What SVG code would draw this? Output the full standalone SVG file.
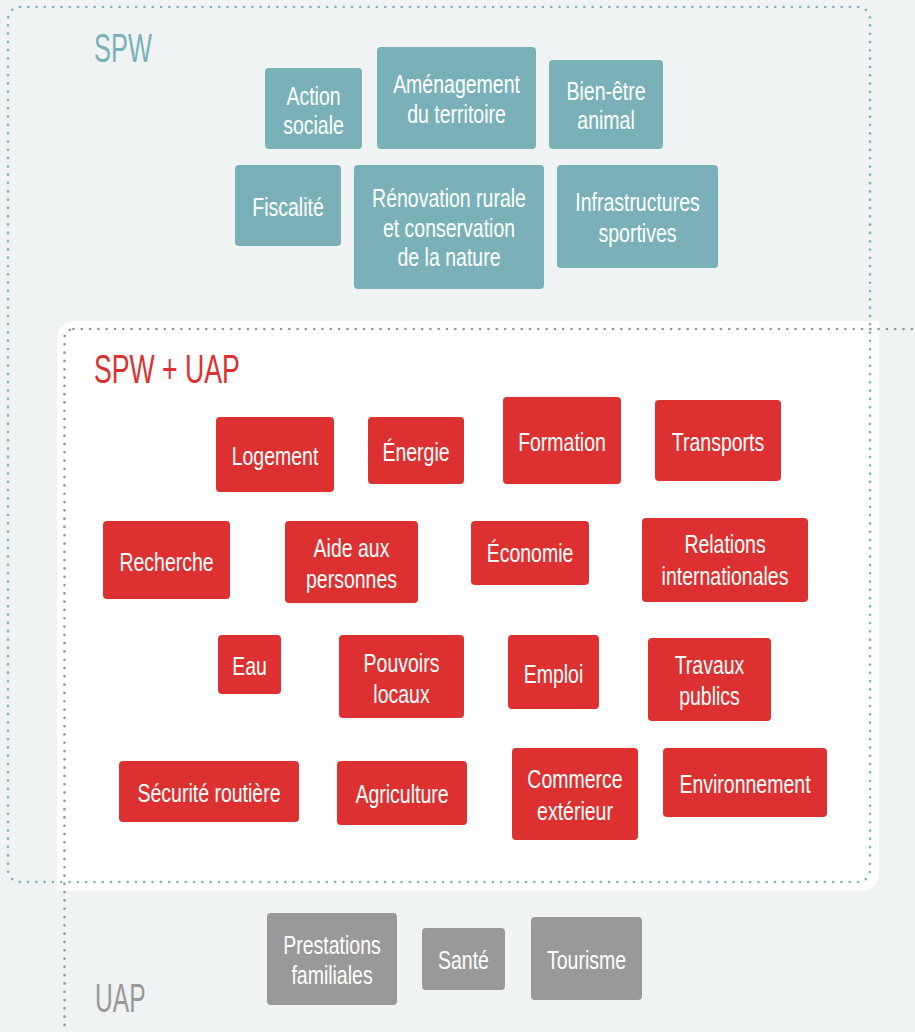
<svg xmlns="http://www.w3.org/2000/svg" width="915" height="1032" viewBox="0 0 915 1032">
<style>
.bg{fill:#eff3f4}
.teal{fill:#7ab1b9}
.red{fill:#dc3130}
.grey{fill:#999999}
.lbl{font-family:"Liberation Sans",Arial,sans-serif;font-size:26px;fill:#ffffff;text-anchor:middle}
.ttl{font-family:"Liberation Sans",Arial,sans-serif;font-size:41px}
.dotT{fill:none;stroke:#7fb4bc;stroke-width:2.7;stroke-linecap:round;stroke-dasharray:0 8.3}
.dotG{fill:none;stroke:#959595;stroke-width:2.7;stroke-linecap:round;stroke-dasharray:0 8.3}
</style>
<rect class="bg" x="0" y="0" width="915" height="1032"/>
<g id="regions">
<path id="intersection" fill="#ffffff" d="M57,341 Q57,321 77,321 H879 V871 Q879,891 859,891 H57 Z"/>
<rect id="spw-region" class="dotT" x="8" y="7" width="862" height="875" rx="12"/>
<rect id="uap-region" class="dotG" x="64.5" y="329" width="900" height="720" rx="9"/>
<text id="title-spw" class="ttl" fill="#7ab1b9" transform="translate(94 0) scale(0.62 1)" x="0" y="62">SPW</text>
<text id="title-spwuap" class="ttl" fill="#dc3130" transform="translate(94 0) scale(0.65 1)" x="0" y="383">SPW + UAP</text>
<text id="title-uap" class="ttl" fill="#999999" transform="translate(95 0) scale(0.6 1)" x="0" y="1012">UAP</text>
</g>
<g id="connectors"/>
<g id="spw-nodes">
<g id="n-action-sociale"><rect class="teal" x="265" y="68" width="97" height="81" rx="4"/><text class="lbl" transform="translate(313.5 0) scale(0.75 1)"><tspan x="0" y="105">Action</tspan><tspan x="0" y="134">sociale</tspan></text></g>
<g id="n-amenagement"><rect class="teal" x="377" y="47" width="159" height="102" rx="4"/><text class="lbl" transform="translate(456.5 0) scale(0.75 1)"><tspan x="0" y="93">Aménagement</tspan><tspan x="0" y="123">du territoire</tspan></text></g>
<g id="n-bien-etre"><rect class="teal" x="549" y="60" width="114" height="89" rx="4"/><text class="lbl" transform="translate(606 0) scale(0.75 1)"><tspan x="0" y="100">Bien-être</tspan><tspan x="0" y="129">animal</tspan></text></g>
<g id="n-fiscalite"><rect class="teal" x="235" y="165" width="106" height="81" rx="4"/><text class="lbl" transform="translate(288 0) scale(0.75 1)"><tspan x="0" y="216">Fiscalité</tspan></text></g>
<g id="n-renovation"><rect class="teal" x="354" y="165" width="190" height="124" rx="4"/><text class="lbl" transform="translate(449 0) scale(0.75 1)"><tspan x="0" y="207">Rénovation rurale</tspan><tspan x="0" y="237">et conservation</tspan><tspan x="0" y="266">de la nature</tspan></text></g>
<g id="n-infrastructures"><rect class="teal" x="557" y="165" width="161" height="103" rx="4"/><text class="lbl" transform="translate(637.5 0) scale(0.75 1)"><tspan x="0" y="211">Infrastructures</tspan><tspan x="0" y="242">sportives</tspan></text></g>
</g>
<g id="shared-nodes">
<g id="n-logement"><rect class="red" x="216" y="417" width="118" height="75" rx="4"/><text class="lbl" transform="translate(275 0) scale(0.75 1)"><tspan x="0" y="465">Logement</tspan></text></g>
<g id="n-energie"><rect class="red" x="368" y="417" width="96" height="67" rx="4"/><text class="lbl" transform="translate(416 0) scale(0.75 1)"><tspan x="0" y="461">Énergie</tspan></text></g>
<g id="n-formation"><rect class="red" x="503" y="397" width="118" height="87" rx="4"/><text class="lbl" transform="translate(562 0) scale(0.75 1)"><tspan x="0" y="451">Formation</tspan></text></g>
<g id="n-transports"><rect class="red" x="655" y="400" width="126" height="81" rx="4"/><text class="lbl" transform="translate(718 0) scale(0.75 1)"><tspan x="0" y="451">Transports</tspan></text></g>
<g id="n-recherche"><rect class="red" x="103" y="521" width="127" height="78" rx="4"/><text class="lbl" transform="translate(166.5 0) scale(0.75 1)"><tspan x="0" y="571">Recherche</tspan></text></g>
<g id="n-aide"><rect class="red" x="285" y="521" width="133" height="82" rx="4"/><text class="lbl" transform="translate(351.5 0) scale(0.75 1)"><tspan x="0" y="557">Aide aux</tspan><tspan x="0" y="588">personnes</tspan></text></g>
<g id="n-economie"><rect class="red" x="471" y="521" width="118" height="64" rx="4"/><text class="lbl" transform="translate(530 0) scale(0.75 1)"><tspan x="0" y="562">Économie</tspan></text></g>
<g id="n-relations"><rect class="red" x="642" y="518" width="166" height="84" rx="4"/><text class="lbl" transform="translate(725 0) scale(0.75 1)"><tspan x="0" y="553">Relations</tspan><tspan x="0" y="585">internationales</tspan></text></g>
<g id="n-eau"><rect class="red" x="218" y="635" width="63" height="59" rx="4"/><text class="lbl" transform="translate(249.5 0) scale(0.75 1)"><tspan x="0" y="675">Eau</tspan></text></g>
<g id="n-pouvoirs"><rect class="red" x="339" y="635" width="125" height="83" rx="4"/><text class="lbl" transform="translate(401.5 0) scale(0.75 1)"><tspan x="0" y="672">Pouvoirs</tspan><tspan x="0" y="703">locaux</tspan></text></g>
<g id="n-emploi"><rect class="red" x="508" y="635" width="91" height="74" rx="4"/><text class="lbl" transform="translate(553.5 0) scale(0.75 1)"><tspan x="0" y="683">Emploi</tspan></text></g>
<g id="n-travaux"><rect class="red" x="648" y="638" width="123" height="83" rx="4"/><text class="lbl" transform="translate(709.5 0) scale(0.75 1)"><tspan x="0" y="674">Travaux</tspan><tspan x="0" y="705">publics</tspan></text></g>
<g id="n-securite"><rect class="red" x="119" y="761" width="180" height="61" rx="4"/><text class="lbl" transform="translate(209 0) scale(0.75 1)"><tspan x="0" y="802">Sécurité routière</tspan></text></g>
<g id="n-agriculture"><rect class="red" x="337" y="761" width="130" height="64" rx="4"/><text class="lbl" transform="translate(402 0) scale(0.75 1)"><tspan x="0" y="803">Agriculture</tspan></text></g>
<g id="n-commerce"><rect class="red" x="512" y="748" width="126" height="92" rx="4"/><text class="lbl" transform="translate(575 0) scale(0.75 1)"><tspan x="0" y="788">Commerce</tspan><tspan x="0" y="820">extérieur</tspan></text></g>
<g id="n-environnement"><rect class="red" x="663" y="748" width="164" height="69" rx="4"/><text class="lbl" transform="translate(745 0) scale(0.75 1)"><tspan x="0" y="793">Environnement</tspan></text></g>
</g>
<g id="uap-nodes">
<g id="n-prestations"><rect class="grey" x="267" y="913" width="130" height="92" rx="4"/><text class="lbl" transform="translate(332 0) scale(0.75 1)"><tspan x="0" y="954">Prestations</tspan><tspan x="0" y="984">familiales</tspan></text></g>
<g id="n-sante"><rect class="grey" x="422" y="928" width="83" height="62" rx="4"/><text class="lbl" transform="translate(463.5 0) scale(0.75 1)"><tspan x="0" y="969">Santé</tspan></text></g>
<g id="n-tourisme"><rect class="grey" x="531" y="917" width="111" height="83" rx="4"/><text class="lbl" transform="translate(586.5 0) scale(0.75 1)"><tspan x="0" y="969">Tourisme</tspan></text></g>
</g>
</svg>
